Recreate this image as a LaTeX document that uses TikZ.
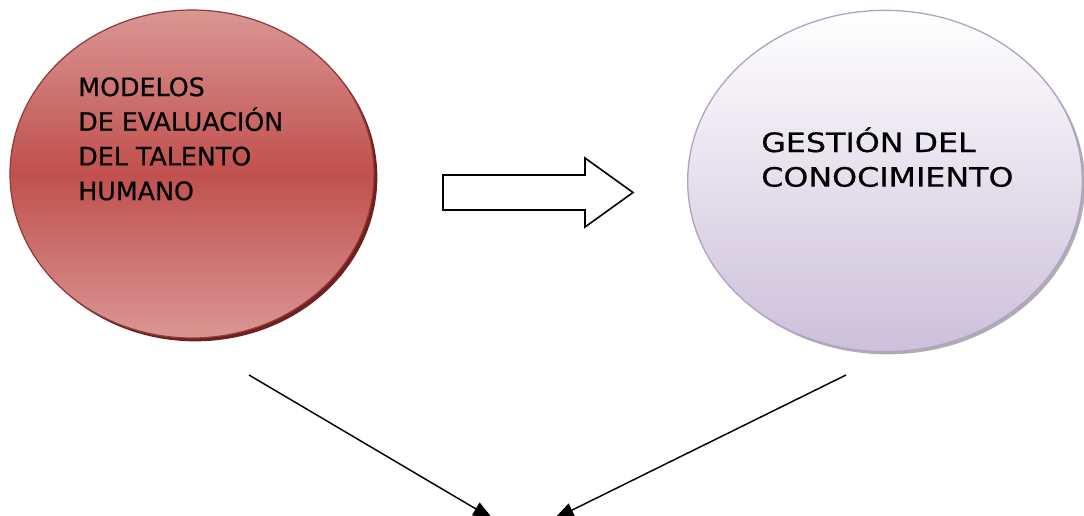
\documentclass[tikz,border=0pt]{standalone}
\usepackage{fontspec}
\newfontfamily\lfont[FakeStretch=1.0,FakeBold=0.6]{DejaVu Sans}
\newfontfamily\rfont[FakeStretch=1.19,FakeBold=0.6]{DejaVu Sans}
\usetikzlibrary{shadows,arrows.meta,shapes.geometric}
\definecolor{redmid}{HTML}{C0504D}
\definecolor{redlight}{HTML}{DA9694}
\definecolor{redline}{HTML}{8E3A38}
\definecolor{redshadow}{HTML}{6E2220}
\definecolor{lavbot}{HTML}{CCC0DA}
\definecolor{lavline}{HTML}{B3A2C7}
\definecolor{lavshadow}{HTML}{9A9A9A}
\begin{document}
\begin{tikzpicture}[x=0.75pt,y=-0.75pt,
  redell/.style={ellipse, draw=redline, line width=0.9pt, top color=redlight, bottom color=redlight, middle color=redmid,
    drop shadow={shadow xshift=2.5pt, shadow yshift=-2.5pt, fill=redshadow, opacity=1}},
  lavell/.style={ellipse, draw=lavline, line width=1pt, top color=white, bottom color=lavbot,
    drop shadow={shadow xshift=2pt, shadow yshift=-2pt, fill=lavshadow, opacity=0.8}},
  conn/.style={line width=1.1pt, -{Triangle[length=15pt,width=11pt]}},
  lbl/.style={anchor=north west, inner sep=0pt, align=left}]
\useasboundingbox (0,0) rectangle (1084,515);
\clip (0,0) rectangle (1084,515);
\fill[white] (0,0) rectangle (1084,515);

\node[redell, minimum width=273pt, minimum height=246pt] (modelos) at (192,174) {};
\node[lavell, minimum width=296pt, minimum height=256pt] (gestion) at (885,181) {};

\node[lbl, font=\lfont\fontsize{19}{26}\selectfont] (modelostxt) at (78,77) {MODELOS\\DE EVALUACIÓN\\DEL TALENTO\\HUMANO};
\node[lbl, font=\rfont\fontsize{20}{26}\selectfont] (gestiontxt) at (761,127) {GESTIÓN DEL\\CONOCIMIENTO};

\draw[line width=1.2pt, fill=white] (443,175) -- (585,175) -- (585,158) -- (633,192.5) -- (585,227) -- (585,210) -- (443,210) -- cycle;

\coordinate (l0) at (249,375);
\coordinate (l1) at (493,519);
\coordinate (r0) at (846,375);
\coordinate (r1) at (554,519);
\draw[conn] (l0) -- (l1);
\draw[conn] (r0) -- (r1);
\end{tikzpicture}
\end{document}
